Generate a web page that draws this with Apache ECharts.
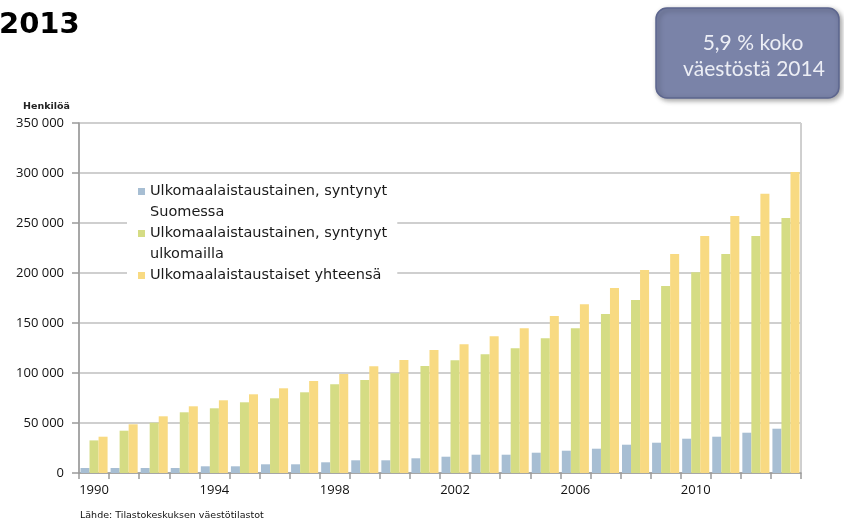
<!DOCTYPE html>
<html>
<head>
<meta charset="utf-8">
<script src="https://cdn.jsdelivr.net/npm/echarts@6/dist/echarts.min.js"></script>
<style>
html,body{margin:0;padding:0;background:#fff;}
#chart{width:844px;height:522px;}
</style>
</head>
<body>
<div id="chart"></div>
<script>
var years = ['1990','1991','1992','1993','1994','1995','1996','1997','1998','1999','2000','2001','2002','2003','2004','2005','2006','2007','2008','2009','2010','2011','2012','2013'];
var bornInFinland = [5000,5000,5000,5000,6700,6700,8700,8700,10700,12700,12700,14700,16300,18300,18300,20300,22300,24300,28300,30300,34300,36300,40300,44300];
var bornAbroad = [32600,42300,50300,60700,64700,70700,74700,80700,88700,93000,99700,107000,112700,118700,124700,134700,144700,159000,173000,187000,200700,219000,237000,255000];
var totalForeignBackground = [36300,48700,56700,66700,72700,78700,84700,92000,99000,106700,113000,123000,128700,136700,144700,157000,168700,185000,203000,219000,237000,257000,279300,301000];
var seriesNames = ['Ulkomaalaistaustainen, syntynyt\nSuomessa','Ulkomaalaistaustainen, syntynyt\nulkomailla','Ulkomaalaistaustaiset yhteensä'];
var yTicks = [0,50000,100000,150000,200000,250000,300000,350000];

var chart = echarts.init(document.getElementById('chart'));
var font = 'Lato, "Open Sans", sans-serif';
var numFont = '"Open Sans", sans-serif';
chart.setOption({
  animation:false,
  backgroundColor:'#fff',
  grid:{left:79,right:43,top:123,bottom:49,show:true,borderColor:'#a0a0a0',borderWidth:1},
  legend:{
    orient:'vertical',left:127,top:181,
    backgroundColor:'#fff',padding:[0,10,0,11],
    itemWidth:7,itemHeight:42,itemGap:0,
    icon:'path://M0,0M0,7L7,7L7,14L0,14ZM7,42',
    formatter:function(name){ return name.indexOf('\n') < 0 ? name + '\n ' : name; },
    textStyle:{fontFamily:'"DejaVu Sans", sans-serif',fontSize:14.5,color:'#1a1a1a',lineHeight:21},
    data:seriesNames
  },
  xAxis:{
    type:'category',data:years,
    axisLine:{lineStyle:{color:'#9a9a9a',width:1.5}},
    axisTick:{show:true,interval:0,length:6,lineStyle:{color:'#9a9a9a',width:1.5}},
    axisLabel:{interval:3,fontFamily:numFont,fontSize:13,color:'#111',margin:11}
  },
  yAxis:{
    type:'value',min:yTicks[0],max:yTicks[yTicks.length-1],interval:50000,
    axisLine:{show:true,lineStyle:{color:'#9a9a9a',width:1.5}},
    axisTick:{show:true,length:7,lineStyle:{color:'#9a9a9a',width:1.5}},
    splitLine:{lineStyle:{color:'#cfcfcf',width:2}},
    axisLabel:{fontFamily:numFont,fontSize:13,color:'#111',margin:15,
      formatter:function(v){return String(v).replace(/\B(?=(\d{3})+(?!\d))/g,' ');}}
  },
  series:[
    {name:seriesNames[0],type:'bar',data:bornInFinland,barGap:'0%',barCategoryGap:'10%',itemStyle:{color:'#a7bed3'}},
    {name:seriesNames[1],type:'bar',data:bornAbroad,barGap:'0%',barCategoryGap:'10%',itemStyle:{color:'#d5dc84'}},
    {name:seriesNames[2],type:'bar',data:totalForeignBackground,barGap:'0%',barCategoryGap:'10%',itemStyle:{color:'#f8da82'}}
  ],
  graphic:[
    {type:'text',left:-1,top:11,style:{text:'2013',font:'bold 29px "DejaVu Sans", sans-serif',fill:'#000'}},
    {type:'rect',shape:{x:656,y:8,width:183,height:90,r:11},
      style:{fill:'#7a83a8',stroke:'#5c658e',lineWidth:1.5,shadowBlur:5,shadowOffsetX:2,shadowOffsetY:2,shadowColor:'rgba(0,0,0,0.35)'}},
    {type:'text',x:753,y:43,style:{text:'5,9 % koko',font:'21px '+font,fill:'#eceef5',align:'center',verticalAlign:'middle'}},
    {type:'text',x:754,y:69,style:{text:'väestöstä 2014',font:'21px '+font,fill:'#eceef5',align:'center',verticalAlign:'middle'}},
    {type:'text',x:70,y:107,style:{text:'Henkilöä',font:'bold 9.5px "DejaVu Sans", sans-serif',fill:'#222',align:'right',verticalAlign:'middle'}},
    {type:'text',x:80,y:516,style:{text:'Lähde: Tilastokeskuksen väestötilastot',font:'9.5px "DejaVu Sans", sans-serif',fill:'#111',verticalAlign:'middle'}}
  ]
});
</script>
</body>
</html>
